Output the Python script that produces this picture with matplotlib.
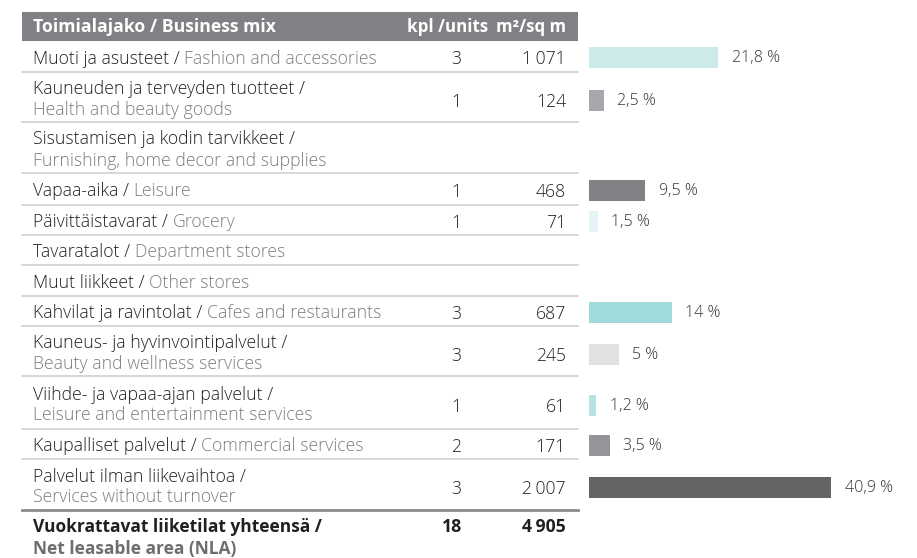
import matplotlib
matplotlib.use('Agg')
import matplotlib.pyplot as plt

plt.rcParams['font.family'] = ['Open Sans', 'DejaVu Sans']

# ── Data ────────────────────────────────────────────────────────────
fi_labels = ['Muoti ja asusteet', 'Kauneuden ja terveyden tuotteet',
             'Sisustamisen ja kodin tarvikkeet', 'Vapaa-aika',
             'Päivittäistavarat', 'Tavaratalot', 'Muut liikkeet',
             'Kahvilat ja ravintolat', 'Kauneus- ja hyvinvointipalvelut',
             'Viihde- ja vapaa-ajan palvelut', 'Kaupalliset palvelut',
             'Palvelut ilman liikevaihtoa']
en_labels = ['Fashion and accessories', 'Health and beauty goods',
             'Furnishing, home decor and supplies', 'Leisure', 'Grocery',
             'Department stores', 'Other stores', 'Cafes and restaurants',
             'Beauty and wellness services',
             'Leisure and entertainment services', 'Commercial services',
             'Services without turnover']
two_line = [False, True, True, False, False, False, False, False, True,
            True, False, True]
units = [3, 1, None, 1, 1, None, None, 3, 3, 1, 2, 3]
area = [1071, 124, None, 468, 71, None, None, 687, 245, 61, 171, 2007]
share = [21.8, 2.5, None, 9.5, 1.5, None, None, 14, 5, 1.2, 3.5, 40.9]
bar_colors = ['#cdeaea', '#a7a8ab', None, '#808184', '#e4f3f3', None, None,
              '#a1dada', '#e0e1e2', '#b7e2e2', '#939598', '#646466']
total_units = 18
total_area = 4905

# ── Layout (pixels) ─────────────────────────────────────────────────
W, H = 917, 558
seps = [41, 72, 122, 173, 205, 235, 265, 296, 326, 376, 429, 459, 510]
TX0, TX1 = 22, 578
X_LABEL, X_UNITS, X_AREA = 33, 456, 566
BAR_X0 = 589
PX_PER_PCT = 5.92
FS = 12.7
FS_PCT = 11.5
LW = 'light'
DY = 2  # text baseline nudge
DARK, GREY = '#231f20', '#7d7d7d'


def fmt_num(v):
    return f'{v:,}'.replace(',', '\u2009')


def fmt_pct(v):
    s = f'{v:g}'.replace('.', ',')
    return f'{s} %'


fig = plt.figure(figsize=(W / 100, H / 100), dpi=100)
ax = fig.add_axes([0, 0, 1, 1])
ax.set_xlim(0, W)
ax.set_ylim(H, 0)
ax.axis('off')

# header
ax.fill_between([TX0, TX1], 12, 41, color='#808184', lw=0)
ax.text(X_LABEL, 27, 'Toimialajako / Business mix', color='white',
        fontsize=12.7, fontweight='bold', va='center')
ax.text(488, 27, 'kpl /units', color='white', fontsize=12.2,
        fontweight='bold', va='center', ha='right')
ax.text(X_AREA, 27, 'm²/sq m', color='white', fontsize=12.2,
        fontweight='bold', va='center', ha='right')

# rows
for i in range(len(fi_labels)):
    top, bot = seps[i], seps[i + 1]
    yc = (top + bot) / 2 + DY
    if two_line[i]:
        ax.text(X_LABEL, yc - 10, fi_labels[i] + ' /', color=DARK,
                fontsize=FS, fontweight=LW, va='center')
        ax.text(X_LABEL, yc + 11, en_labels[i], color=GREY,
                fontsize=FS, fontweight=LW, va='center')
        yv = yc + 3
    else:
        t = ax.text(X_LABEL, yc, fi_labels[i] + ' / ', color=DARK,
                    fontsize=FS, fontweight=LW, va='center')
        ax.annotate(en_labels[i], xy=(1, 0), xycoords=t, va='bottom',
                    ha='left', color=GREY, fontsize=FS, fontweight=LW)
        yv = yc + 1
    if units[i] is not None:
        ax.text(X_UNITS, yv, str(units[i]), color=DARK, fontsize=FS,
                fontweight=LW, va='center', ha='center')
        ax.text(X_AREA, yv, fmt_num(area[i]), color=DARK, fontsize=FS,
                fontweight=LW, va='center', ha='right')
    if i < len(fi_labels) - 1:
        ax.plot([TX0, TX1], [bot, bot], color='#cfcfcf', lw=1.2)

ax.plot([TX0, TX1], [seps[-1], seps[-1]], color='#8a8a8c', lw=2)

# total
ax.text(X_LABEL, 527, 'Vuokrattavat liiketilat yhteensä /', color=DARK,
        fontsize=12.5, fontweight='bold', va='center')
ax.text(X_LABEL, 549, 'Net leasable area (NLA)', color='#6d6e71',
        fontsize=12.5, fontweight='bold', va='center')
ax.text(452, 527, str(total_units), color=DARK, fontsize=FS,
        fontweight='bold', va='center', ha='center')
ax.text(X_AREA, 527, fmt_num(total_area), color=DARK, fontsize=FS,
        fontweight='bold', va='center', ha='right')

# bars on their own axes (x in percent)
bax = fig.add_axes([BAR_X0 / W, 0, (W - BAR_X0) / W, 1])
bax.set_xlim(0, (W - BAR_X0) / PX_PER_PCT)
bax.set_ylim(H, 0)
bax.axis('off')
for i, v in enumerate(share):
    if v is None:
        continue
    yc = (seps[i] + seps[i + 1]) / 2 + (3 if two_line[i] else 1)
    bax.barh(yc, v, height=21, color=bar_colors[i], lw=0)
    bax.text(v + 2.3, yc + 1, fmt_pct(v), color='#333333', fontsize=FS_PCT,
             fontweight=LW, va='center', ha='left')

fig.savefig('out.png', dpi=100)
